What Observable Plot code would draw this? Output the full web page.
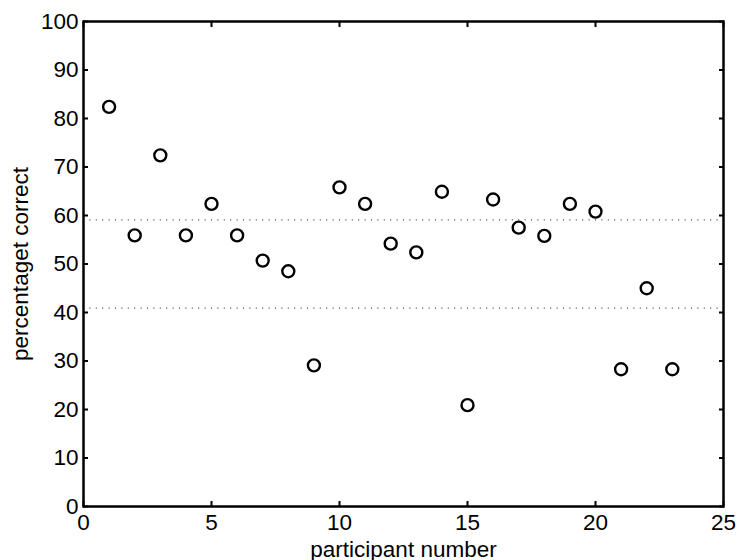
<!DOCTYPE html>
<html>
<head>
<meta charset="utf-8">
<script src="https://cdn.jsdelivr.net/npm/d3@7"></script>
<script src="https://cdn.jsdelivr.net/npm/@observablehq/plot@0.6"></script>
<style>
  html, body { margin: 0; padding: 0; background: #fff; }
  #chart svg { display: block; }
</style>
</head>
<body>
<div id="chart"></div>
<script>
const participants = [1,2,3,4,5,6,7,8,9,10,11,12,13,14,15,16,17,18,19,20,21,22,23];
const percentCorrect = [82.4,55.9,72.4,55.9,62.4,55.9,50.7,48.5,29.1,65.8,62.4,54.2,52.4,64.9,20.9,63.3,57.5,55.8,62.4,60.8,28.3,45.0,28.3];
const chanceBounds = [59.1, 40.9];
const xTicks = [0,5,10,15,20,25];
const yTicks = [0,10,20,30,40,50,60,70,80,90,100];

const data = participants.map((p, i) => ({participant: p, pct: percentCorrect[i]}));

const font = "'Liberation Sans', Arial, Helvetica, sans-serif";

const chart = Plot.plot({
  width: 737,
  height: 560,
  marginLeft: 83,
  marginRight: 14,
  marginTop: 21,
  marginBottom: 54,
  style: {fontFamily: font, fontSize: "22.5px", color: "#000", background: "#fff"},
  x: {domain: [0, 25]},
  y: {domain: [0, 100]},
  marks: [
    Plot.ruleY(chanceBounds, {stroke: "#444", strokeWidth: 1.2, strokeDasharray: "1,5.4"}),
    Plot.dot(data, {x: "participant", y: "pct", r: 6, stroke: "#000", strokeWidth: 2.4, fill: "none"}),
    Plot.axisX(xTicks, {anchor: "bottom", tickSize: -5, strokeWidth: 2, text: null, label: null}),
    Plot.axisX(xTicks, {anchor: "top", tickSize: -5, strokeWidth: 2, text: null, label: null}),
    Plot.axisY(yTicks, {anchor: "left", tickSize: -5, strokeWidth: 2, text: null, label: null}),
    Plot.axisY(yTicks, {anchor: "right", tickSize: -5, strokeWidth: 2, text: null, label: null}),
    Plot.axisX(xTicks, {anchor: "bottom", tickSize: 0, tickPadding: 8, fontSize: 22.5, fill: "#000",
      label: "participant number", labelAnchor: "center", labelArrow: "none", labelOffset: 50}),
    Plot.axisY(yTicks, {anchor: "left", tickSize: 0, tickPadding: 5, fontSize: 22.5, fill: "#000",
      label: "percentaget correct", labelAnchor: "center", labelArrow: "none", labelOffset: 71}),
    Plot.frame({stroke: "#000", strokeWidth: 2.5})
  ]
});
document.getElementById("chart").appendChild(chart);
</script>
</body>
</html>
